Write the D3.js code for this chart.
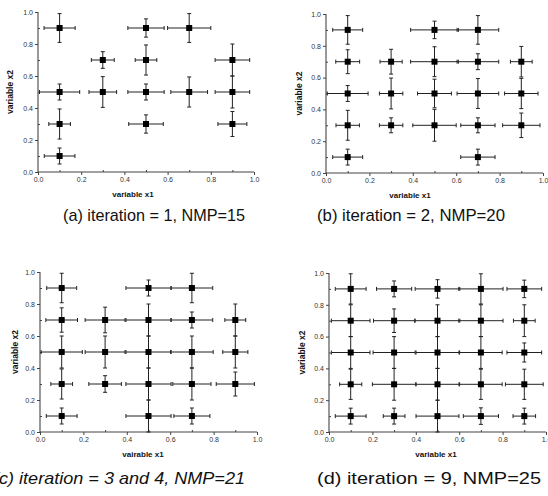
<!DOCTYPE html>
<html>
<head>
<meta charset="utf-8">
<script src="https://cdn.jsdelivr.net/npm/d3@7"></script>
<style>
  body { margin: 0; background: #fff; }
  svg { display: block; }
</style>
</head>
<body>
<svg id="chart" width="548" height="496"></svg>
<script>
// Data: each point is [x1, x2, error in x1, error in x2]
var majorTicks = [0, 0.2, 0.4, 0.6, 0.8, 1.0];
var minorTicks = [0.1, 0.3, 0.5, 0.7, 0.9];

var pointsA = [
  [0.1, 0.9, 0.072, 0.09], [0.5, 0.9, 0.084, 0.057], [0.7, 0.9, 0.1, 0.09],
  [0.3, 0.7, 0.053, 0.052], [0.5, 0.7, 0.05, 0.094], [0.9, 0.7, 0.08, 0.1],
  [0.1, 0.5, 0.093, 0.05], [0.3, 0.5, 0.064, 0.096], [0.5, 0.5, 0.084, 0.05],
  [0.7, 0.5, 0.085, 0.094], [0.9, 0.5, 0.08, 0.1],
  [0.1, 0.3, 0.05, 0.094], [0.5, 0.3, 0.08, 0.057], [0.9, 0.3, 0.067, 0.078],
  [0.1, 0.1, 0.071, 0.05]
];

var pointsB = [
  [0.1, 0.9, 0.069, 0.09], [0.5, 0.9, 0.11, 0.055], [0.7, 0.9, 0.096, 0.09],
  [0.1, 0.7, 0.055, 0.075], [0.3, 0.7, 0.051, 0.078], [0.5, 0.7, 0.11, 0.094],
  [0.7, 0.7, 0.096, 0.05], [0.9, 0.7, 0.05, 0.096],
  [0.1, 0.5, 0.094, 0.05], [0.3, 0.5, 0.054, 0.097], [0.5, 0.5, 0.078, 0.09],
  [0.7, 0.5, 0.096, 0.094], [0.9, 0.5, 0.077, 0.095],
  [0.1, 0.3, 0.054, 0.094], [0.3, 0.3, 0.054, 0.047], [0.5, 0.3, 0.1, 0.1],
  [0.7, 0.3, 0.079, 0.047], [0.9, 0.3, 0.086, 0.077],
  [0.1, 0.1, 0.069, 0.05], [0.7, 0.1, 0.079, 0.05]
];

var pointsC = [
  [0.1, 0.9, 0.069, 0.092], [0.5, 0.9, 0.104, 0.05], [0.7, 0.9, 0.096, 0.092],
  [0.1, 0.7, 0.073, 0.076], [0.3, 0.7, 0.092, 0.08], [0.5, 0.7, 0.104, 0.1],
  [0.7, 0.7, 0.096, 0.05], [0.9, 0.7, 0.048, 0.1],
  [0.1, 0.5, 0.095, 0.1], [0.3, 0.5, 0.092, 0.1], [0.5, 0.5, 0.104, 0.1],
  [0.7, 0.5, 0.098, 0.1], [0.9, 0.5, 0.058, 0.1],
  [0.1, 0.3, 0.05, 0.094], [0.3, 0.3, 0.075, 0.052], [0.5, 0.3, 0.104, 0.1],
  [0.7, 0.3, 0.088, 0.1], [0.9, 0.3, 0.088, 0.075],
  [0.1, 0.1, 0.071, 0.05], [0.5, 0.1, 0.104, 0.1], [0.7, 0.1, 0.083, 0.05]
];

var pointsD = [
  [0.1, 0.9, 0.071, 0.095], [0.3, 0.9, 0.081, 0.05], [0.5, 0.9, 0.103, 0.058],
  [0.7, 0.9, 0.102, 0.095], [0.9, 0.9, 0.08, 0.055],
  [0.1, 0.7, 0.089, 0.1], [0.3, 0.7, 0.095, 0.074], [0.5, 0.7, 0.103, 0.1],
  [0.7, 0.7, 0.102, 0.1], [0.9, 0.7, 0.05, 0.1],
  [0.1, 0.5, 0.089, 0.1], [0.3, 0.5, 0.097, 0.1], [0.5, 0.5, 0.099, 0.1],
  [0.7, 0.5, 0.098, 0.1], [0.9, 0.5, 0.08, 0.06],
  [0.1, 0.3, 0.051, 0.095], [0.3, 0.3, 0.1, 0.1], [0.5, 0.3, 0.099, 0.1],
  [0.7, 0.3, 0.098, 0.095], [0.9, 0.3, 0.087, 0.095],
  [0.1, 0.1, 0.071, 0.05], [0.3, 0.1, 0.05, 0.05], [0.5, 0.1, 0.099, 0.1],
  [0.7, 0.1, 0.081, 0.052], [0.9, 0.1, 0.052, 0.05]
];

var xLabels = ["variable x1", "variable x1", "vairable x1", "variable x1"];
var yLabel = "variable x2";
var captions = [
  "(a) iteration = 1, NMP=15",
  "(b) iteration = 2, NMP=20",
  "(c) iteration = 3 and 4, NMP=21",
  "(d) iteration = 9, NMP=25"
];

// Panel placement on the page
var panels = [
  { data: pointsA, left: 38, right: 254, top: 12, bottom: 172, ylabX: 10, xlabX: 133, capX: 63, capW: 182, capY: 221, italic: false },
  { data: pointsB, left: 326, right: 543, top: 14, bottom: 173, ylabX: 299, xlabX: 410, capX: 317, capW: 188, capY: 221, italic: false },
  { data: pointsC, left: 40, right: 257, top: 272, bottom: 432, ylabX: 15, xlabX: 143, capX: -7, capW: 252, capY: 484, italic: true },
  { data: pointsD, left: 329, right: 546, top: 273, bottom: 432, ylabX: 302, xlabX: 436, capX: 317, capW: 224, capY: 484, italic: false }
];

var svg = d3.select("#chart");
var fmt = d3.format(".1f");

panels.forEach(function(p, i) {
  var x = d3.scaleLinear().domain([0, 1]).range([p.left, p.right]);
  var y = d3.scaleLinear().domain([0, 1]).range([p.bottom, p.top]);
  var g = svg.append("g").attr("class", "panel");

  // axes
  var xAxis = g.append("g")
    .attr("transform", "translate(0," + p.bottom + ")")
    .call(d3.axisBottom(x).tickValues(majorTicks).tickFormat(fmt).tickSize(3).tickPadding(2));
  g.append("g")
    .attr("transform", "translate(0," + p.bottom + ")")
    .call(d3.axisBottom(x).tickValues(minorTicks).tickFormat("").tickSize(-2))
    .select(".domain").remove();

  var yAxis = g.append("g")
    .attr("transform", "translate(" + p.left + ",0)")
    .call(d3.axisLeft(y).tickValues(majorTicks).tickFormat(fmt).tickSize(3).tickPadding(2));
  g.append("g")
    .attr("transform", "translate(" + p.left + ",0)")
    .call(d3.axisLeft(y).tickValues(minorTicks).tickFormat("").tickSize(-2))
    .select(".domain").remove();

  g.selectAll(".domain").attr("stroke", "#444").attr("stroke-width", 1.1);
  g.selectAll(".tick line").attr("stroke", "#444");
  g.selectAll(".tick text")
    .attr("font-family", "Liberation Sans, Arial, sans-serif")
    .attr("font-size", 7)
    .attr("fill", "#333");
  xAxis.selectAll(".domain").attr("d", "M" + p.left + ",0H" + p.right);
  yAxis.selectAll(".domain").attr("d", "M0," + p.bottom + "V" + p.top);

  // error bars
  var bars = g.selectAll(".pt").data(p.data).enter().append("g").attr("class", "pt");
  var cap = 2;

  bars.append("line")
    .attr("x1", function(d) { return x(d[0] - d[2]); })
    .attr("x2", function(d) { return x(d[0] + d[2]); })
    .attr("y1", function(d) { return y(d[1]); })
    .attr("y2", function(d) { return y(d[1]); });
  bars.append("line")
    .attr("x1", function(d) { return x(d[0]); })
    .attr("x2", function(d) { return x(d[0]); })
    .attr("y1", function(d) { return y(d[1] - d[3]); })
    .attr("y2", function(d) { return y(d[1] + d[3]); });

  [-1, 1].forEach(function(s) {
    bars.append("line")
      .attr("x1", function(d) { return x(d[0] + s * d[2]); })
      .attr("x2", function(d) { return x(d[0] + s * d[2]); })
      .attr("y1", function(d) { return y(d[1]) - cap; })
      .attr("y2", function(d) { return y(d[1]) + cap; });
    bars.append("line")
      .attr("x1", function(d) { return x(d[0]) - cap; })
      .attr("x2", function(d) { return x(d[0]) + cap; })
      .attr("y1", function(d) { return y(d[1] + s * d[3]); })
      .attr("y2", function(d) { return y(d[1] + s * d[3]); });
  });
  bars.selectAll("line").attr("stroke", "#222").attr("stroke-width", 1);

  // markers
  bars.append("rect")
    .attr("x", function(d) { return x(d[0]) - 3; })
    .attr("y", function(d) { return y(d[1]) - 3; })
    .attr("width", 6)
    .attr("height", 6)
    .attr("fill", "#000");

  // axis titles
  g.append("text")
    .attr("x", p.xlabX)
    .attr("y", p.bottom + 25)
    .attr("text-anchor", "middle")
    .attr("font-family", "Liberation Sans, Arial, sans-serif")
    .attr("font-weight", "bold")
    .attr("font-size", 8)
    .attr("fill", "#111")
    .text(xLabels[i]);

  g.append("text")
    .attr("transform", "translate(" + p.ylabX + "," + ((p.top + p.bottom) / 2) + ") rotate(-90)")
    .attr("dy", "0.35em")
    .attr("text-anchor", "middle")
    .attr("font-family", "Liberation Sans, Arial, sans-serif")
    .attr("font-weight", "bold")
    .attr("font-size", 8.5)
    .attr("fill", "#111")
    .text(yLabel);

  // caption
  svg.append("text")
    .attr("x", p.capX)
    .attr("y", p.capY)
    .attr("font-family", "Liberation Sans, Arial, sans-serif")
    .attr("font-size", 17)
    .attr("font-style", p.italic ? "italic" : "normal")
    .attr("textLength", p.capW)
    .attr("lengthAdjust", "spacingAndGlyphs")
    .attr("fill", "#111")
    .text(captions[i]);
});
</script>
</body>
</html>
